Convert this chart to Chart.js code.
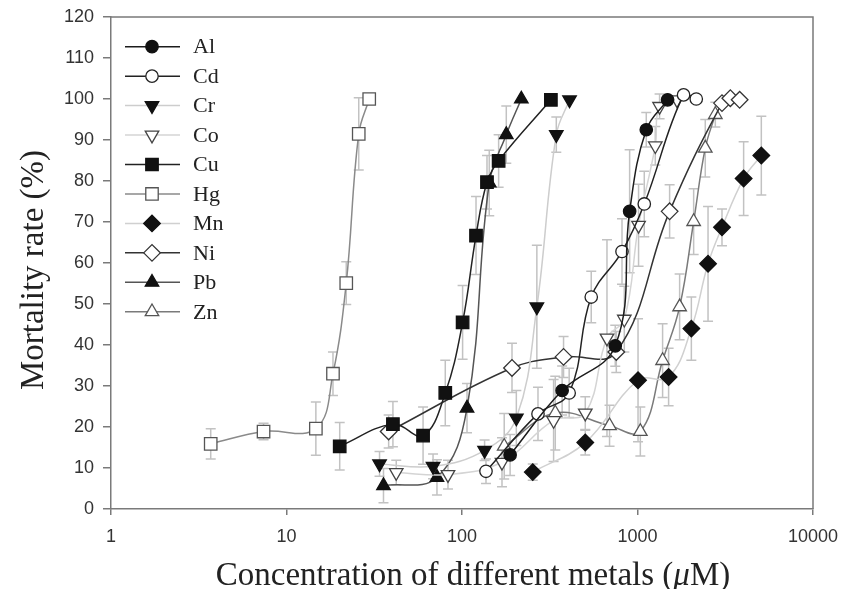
<!DOCTYPE html>
<html>
<head>
<meta charset="utf-8">
<title>Mortality rate vs metal concentration</title>
<script src="https://cdn.jsdelivr.net/npm/chart.js@4.4.1/dist/chart.umd.min.js"></script>
<style>
  html, body { margin: 0; padding: 0; background: #fff; }
  #wrap { width: 842px; height: 589px; }
</style>
</head>
<body>
<div id="wrap"><canvas id="mortality-chart" width="842" height="589"></canvas></div>
<script>
// Mortality rate (%) against metal concentration (µM).

const metalNames = ["Al", "Cd", "Cr", "Co", "Cu", "Hg", "Mn", "Ni", "Pb", "Zn"];

const alConc = [188, 372, 747, 902, 1122, 1484];
const alRate = [13.2, 28.9, 39.8, 72.6, 92.5, 99.8];
const alSd   = [5, 6, 5, 15, 4.2, 0];

const cdConc = [137, 271, 408, 545, 816, 1093, 1830, 2162];
const cdRate = [9.2, 23.2, 28.3, 51.7, 62.8, 74.4, 101, 100];
const cdSd   = [3, 6.5, 6, 6.3, 8, 8, 0, 0];

const crConc = [33.9, 68.4, 134.5, 204, 267, 344.6, 410];
const crRate = [11.0, 10.4, 14.3, 22.2, 49.3, 91.3, 99.8];
const crSd   = [3, 3, 2.5, 6.7, 15, 4.3, 0];

const coConc = [42.2, 83.2, 169, 332.6, 504, 670, 841, 1014, 1263, 1336, 1679];
const coRate = [8.9, 8.4, 11.4, 21.6, 23.4, 41.7, 46.3, 69.2, 88.6, 98.2, 99.8];
const coSd   = [3, 3.5, 6, 10, 4, 24, 8, 10, 4.7, 3, 0];

const cuConc = [20.1, 40.4, 60, 80.3, 100.8, 120.2, 138.8, 161.7, 321];
const cuRate = [15.3, 20.7, 17.9, 28.3, 45.5, 66.7, 79.7, 84.9, 99.8];
const cuSd   = [5.8, 5.5, 7, 8, 9, 9.5, 6.5, 6.4, 0];

const hgConc = [3.7, 7.4, 14.7, 18.4, 21.9, 25.8, 29.6];
const hgRate = [15.9, 18.9, 19.6, 33.0, 55.1, 91.5, 100.0];
const hgSd   = [3.7, 2.0, 6.5, 5.3, 5.2, 8.8, 0];

const mnConc = [253, 504, 1007, 1504, 2027, 2523, 3030, 4025, 5076];
const mnRate = [9.0, 16.2, 31.4, 32.2, 44.0, 59.8, 68.7, 80.6, 86.2];
const mnSd   = [2, 3, 15, 7, 7.7, 14, 4.5, 9, 9.6];

const niConc = [38.2, 192.7, 379, 757, 1524, 3030, 3380, 3820];
const niRate = [18.9, 34.4, 37.1, 38.3, 72.6, 99.0, 100.2, 99.8];
const niSd   = [4, 6, 5, 5, 6.5, 0, 0, 0];

const pbConc = [35.7, 72, 106.8, 143, 178.8, 217.8];
const pbRate = [5.7, 7.7, 24.6, 79.5, 91.3, 100];
const pbSd   = [4.2, 4.3, 6, 8, 7, 0];

const znConc = [174, 340, 693, 1038, 1390, 1738, 2089, 2433, 2776];
const znRate = [15.3, 23.4, 20.3, 18.9, 36.2, 49.3, 70.1, 88.0, 96.2];
const znSd   = [8, 9, 5, 6, 9, 8, 8, 7, 3];

const xTickValues = [1, 10, 100, 1000, 10000];
const yTickStep   = 10;

// ---------------------------------------------------------------------------

const SERIF = "'Liberation Serif', 'Times New Roman', serif";
const SANS  = "'Liberation Sans', Arial, sans-serif";

const toPoints = (conc, rate) => conc.map((c, i) => ({ x: c, y: rate[i] }));

// marker styles: [pointStyle, rotation, radius, filled, lineColor, markerEdge]
const seriesStyle = {
  Al: ["circle",   0,   6.2, true,  "#1c1c1c", "#111"],
  Cd: ["circle",   0,   6.2, false, "#222222", "#222"],
  Cr: ["triangle", 180, 7.8, true,  "#cdcdcd", "#111"],
  Co: ["triangle", 180, 7.8, false, "#d4d4d4", "#444"],
  Cu: ["rect",     0,   8.8, true,  "#222222", "#111"],
  Hg: ["rect",     0,   8.8, false, "#8a8a8a", "#555"],
  Mn: ["rectRot",  0,   8.3, true,  "#d0d0d0", "#111"],
  Ni: ["rectRot",  0,   8.3, false, "#333333", "#333"],
  Pb: ["triangle", 0,   7.8, true,  "#555555", "#111"],
  Zn: ["triangle", 0,   7.8, false, "#7a7a7a", "#555"],
};

const seriesData = {
  Al: [alConc, alRate, alSd],
  Cd: [cdConc, cdRate, cdSd],
  Cr: [crConc, crRate, crSd],
  Co: [coConc, coRate, coSd],
  Cu: [cuConc, cuRate, cuSd],
  Hg: [hgConc, hgRate, hgSd],
  Mn: [mnConc, mnRate, mnSd],
  Ni: [niConc, niRate, niSd],
  Pb: [pbConc, pbRate, pbSd],
  Zn: [znConc, znRate, znSd],
};

const datasets = metalNames.map(name => {
  const [conc, rate, sd] = seriesData[name];
  const [ps, rot, r, filled, lineCol, edge] = seriesStyle[name];
  return {
    label:                name,
    data:                 toPoints(conc, rate),
    sd:                   sd,
    borderColor:          lineCol,
    borderWidth:          1.5,
    tension:              0.4,
    fill:                 false,
    pointStyle:           ps,
    pointRotation:        rot,
    pointRadius:          r,
    pointHoverRadius:     r,
    pointBackgroundColor: filled ? "#111" : "#fff",
    pointBorderColor:     edge,
    pointBorderWidth:     1.3,
  };
});

// ---------------------------------------------------------------------------
// plugins: error bars, frame, legend, axis titles
// ---------------------------------------------------------------------------

const errorBars = {
  id: "errorBars",
  beforeDatasetsDraw(chart) {
    const { ctx } = chart;
    const yScale = chart.scales.y;
    ctx.save();
    ctx.strokeStyle = "#c2c2c2";
    ctx.lineWidth = 1.5;
    chart.data.datasets.forEach((ds, i) => {
      const meta = chart.getDatasetMeta(i);
      meta.data.forEach((pt, j) => {
        const sd = ds.sd[j];
        if (!sd) return;
        const v = ds.data[j].y;
        const yTop = yScale.getPixelForValue(v + sd);
        const yBot = yScale.getPixelForValue(v - sd);
        ctx.beginPath();
        ctx.moveTo(pt.x, yTop); ctx.lineTo(pt.x, yBot);
        ctx.moveTo(pt.x - 5, yTop); ctx.lineTo(pt.x + 5, yTop);
        ctx.moveTo(pt.x - 5, yBot); ctx.lineTo(pt.x + 5, yBot);
        ctx.stroke();
      });
    });
    ctx.restore();
  },
};

const frameAndText = {
  id: "frameAndText",
  afterDraw(chart) {
    const { ctx, chartArea: a } = chart;
    ctx.save();

    // top and right sides of the box
    ctx.strokeStyle = "#7a7a7a";
    ctx.lineWidth = 1.5;
    ctx.beginPath();
    ctx.moveTo(a.left, a.top); ctx.lineTo(a.right, a.top); ctx.lineTo(a.right, a.bottom);
    ctx.stroke();

    // legend: line + marker + label
    chart.data.datasets.forEach((ds, i) => {
      const y = 46.7 + i * 29.45;
      ctx.strokeStyle = ds.borderColor;
      ctx.lineWidth = 1.5;
      ctx.beginPath();
      ctx.moveTo(125, y); ctx.lineTo(180, y);
      ctx.stroke();
      ctx.fillStyle = ds.pointBackgroundColor;
      ctx.strokeStyle = ds.pointBorderColor;
      ctx.lineWidth = ds.pointBorderWidth;
      Chart.helpers.drawPoint(ctx, {
        pointStyle:  ds.pointStyle,
        rotation:    ds.pointRotation,
        radius:      ds.pointRadius,
        borderWidth: ds.pointBorderWidth,
      }, 152, y);
      ctx.fillStyle = "#222";
      ctx.font = "22px " + SERIF;
      ctx.textAlign = "left";
      ctx.textBaseline = "middle";
      ctx.fillText(ds.label, 193, y + 1);
    });

    // x title with italic mu
    ctx.fillStyle = "#222";
    ctx.textBaseline = "alphabetic";
    const parts = [
      ["Concentration of different metals (", "33px " + SERIF],
      ["\u03BC", "italic 33px " + SERIF],
      ["M)", "33px " + SERIF],
    ];
    let total = 0;
    parts.forEach(([t, f]) => { ctx.font = f; total += ctx.measureText(t).width; });
    let x = 473 - total / 2;
    ctx.textAlign = "left";
    parts.forEach(([t, f]) => {
      ctx.font = f;
      ctx.fillText(t, x, 585);
      x += ctx.measureText(t).width;
    });

    // y title
    ctx.save();
    ctx.translate(43, 270);
    ctx.rotate(-Math.PI / 2);
    ctx.font = "33px " + SERIF;
    ctx.textAlign = "center";
    ctx.fillText("Mortality rate (%)", 0, 0);
    ctx.restore();

    ctx.restore();
  },
};

// ---------------------------------------------------------------------------

new Chart(document.getElementById("mortality-chart"), {
  type: "line",
  data: { datasets },
  options: {
    responsive:       false,
    animation:        false,
    devicePixelRatio: 1,
    layout: { padding: { top: 17, right: 29, left: 0, bottom: 0 } },
    plugins: {
      legend:  { display: false },
      tooltip: { enabled: false },
    },
    scales: {
      x: {
        type: "logarithmic",
        min:  1,
        max:  10000,
        afterBuildTicks: s => { s.ticks = xTickValues.map(v => ({ value: v, major: true })); },
        afterFit: s => { s.height = 80; s.paddingLeft = 0; s.paddingRight = 0; },
        ticks: {
          callback: v => String(v),
          font:     { family: SANS, size: 18 },
          color:    "#333",
          padding:  11,
          maxRotation: 0,
          autoSkip: false,
        },
        grid:   { drawOnChartArea: false, tickLength: 6, color: "#7a7a7a", lineWidth: 1.5 },
        border: { color: "#7a7a7a", width: 1.5 },
      },
      y: {
        min: 0,
        max: 120,
        afterFit: s => { s.width = 111; s.paddingTop = 0; s.paddingBottom = 0; },
        ticks: {
          stepSize: yTickStep,
          font:     { family: SANS, size: 18 },
          color:    "#333",
          padding:  9,
        },
        grid:   { drawOnChartArea: false, tickLength: 8, color: "#7a7a7a", lineWidth: 1.5 },
        border: { color: "#7a7a7a", width: 1.5 },
      },
    },
  },
  plugins: [errorBars, frameAndText],
});
</script>
</body>
</html>
